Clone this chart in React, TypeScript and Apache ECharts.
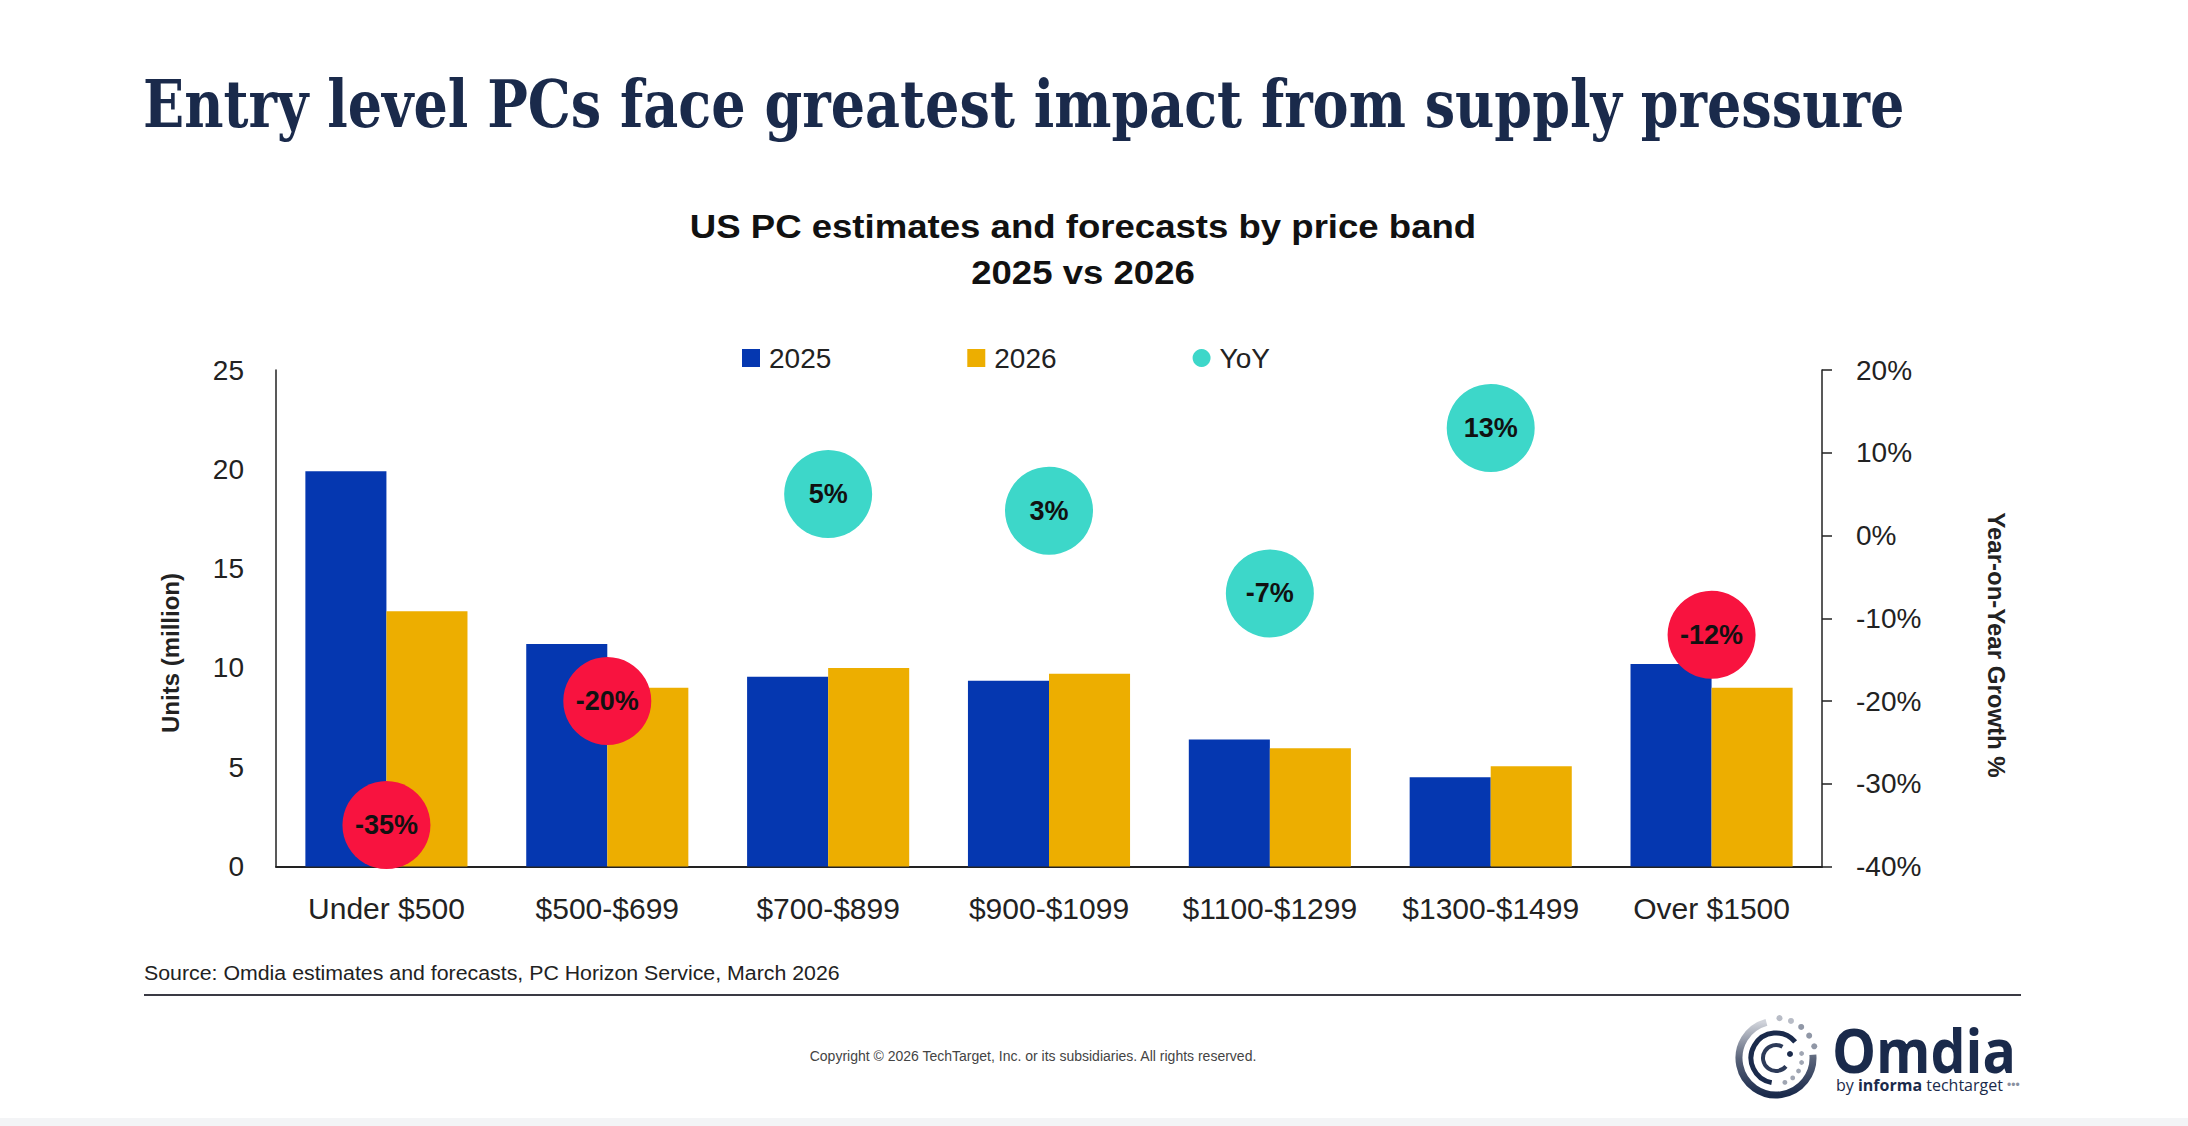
import React, { useEffect, useRef } from 'react';
import * as echarts from 'echarts';

const categories = ['Under $500', '$500-$699', '$700-$899', '$900-$1099', '$1100-$1299', '$1300-$1499', 'Over $1500'];
const units2025 = [19.9, 11.2, 9.55, 9.35, 6.4, 4.5, 10.2];
const units2026 = [12.85, 9.0, 10.0, 9.7, 5.95, 5.05, 9.0];
const yoyGrowth = [-35, -20, 5, 3, -7, 13, -12];
const seriesNames = ['2025', '2026', 'YoY'];
const unitsAxis = { min: 0, max: 25, interval: 5 };
const growthAxis = { min: -40, max: 20, interval: 10 };

const TITLE = 'Entry level PCs face greatest impact from supply pressure';
const CHART_TITLE_1 = 'US PC estimates and forecasts by price band';
const CHART_TITLE_2 = '2025 vs 2026';
const LEFT_NAME = 'Units (million)';
const RIGHT_NAME = 'Year-on-Year Growth %';
const SOURCE = 'Source: Omdia estimates and forecasts, PC Horizon Service, March 2026';
const COPYRIGHT = 'Copyright \u00A9 2026 TechTarget, Inc. or its subsidiaries. All rights reserved.';

const BLUE = '#0537B0';
const YELLOW = '#EDAE00';
const TEAL = '#3DD7C9';
const RED = '#F8133F';
const NAVY = '#1a2a4b';
const SANS = '"Liberation Sans", Arial';

function measure(text: string, font: string): number {
  const c = document.createElement('canvas').getContext('2d');
  if (!c) return 1;
  c.font = font;
  return c.measureText(text).width || 1;
}

export default function App() {
  const ref = useRef<HTMLDivElement>(null);
  useEffect(() => {
    document.body.style.margin = '0';
    if (!ref.current) return;
    const chart = echarts.init(ref.current, undefined, { renderer: 'svg' });

    const titleFont = 'bold 66px "DejaVu Serif"';
    const titleScale = 1762 / measure(TITLE, titleFont);
    const ctFont = 'bold 34px "Liberation Sans"';
    const ctScale = 787 / measure(CHART_TITLE_1, ctFont);
    const srcFont = '21px "Liberation Sans Narrow", "Liberation Sans", Arial';
    const srcScale = 696 / measure(SOURCE, srcFont);
    const omdiaFont = 'bold 60px "Open Sans"';
    const omdiaScale = 184 / measure('Omdia', omdiaFont);

    const cx = 1776, cy = 1058;
    const deg = (d: number) => (d * Math.PI) / 180;
    const dots: any[] = [];
    [275, 292, 309, 326, 343].forEach((a, i) => {
      dots.push({ type: 'circle', shape: { cx: cx + 40 * Math.cos(deg(a)), cy: cy + 40 * Math.sin(deg(a)), r: 3 }, style: { fill: i < 2 ? '#b8bcc6' : '#9097a6' } });
    });
    [350, 10, 30, 50, 70].forEach((a) => {
      dots.push({ type: 'circle', shape: { cx: cx + 26 * Math.cos(deg(a)), cy: cy + 26 * Math.sin(deg(a)), r: 2.4 }, style: { fill: '#a0a6b3' } });
    });
    dots.push({ type: 'circle', shape: { cx: cx + 14, cy: cy - 4, r: 3 }, style: { fill: NAVY } });

    const option: any = {
      animation: false,
      backgroundColor: '#ffffff',
      legend: {
        top: 339,
        left: 737,
        itemWidth: 18,
        itemHeight: 18,
        itemGap: 136,
        textStyle: { fontFamily: SANS, fontSize: 28, color: '#222', width: 72, padding: [0, 0, 0, 4] },
        data: [
          { name: seriesNames[0], icon: 'rect' },
          { name: seriesNames[1], icon: 'rect' },
          { name: seriesNames[2], icon: 'circle' },
        ],
      },
      grid: { left: 276, right: 366, top: 370, bottom: 259.5, containLabel: false },
      xAxis: {
        type: 'category',
        data: categories,
        axisLine: { lineStyle: { color: '#222', width: 2 } },
        axisTick: { show: false },
        axisLabel: { fontFamily: SANS, fontSize: 30, color: '#222', margin: 27, interval: 0 },
      },
      yAxis: [
        {
          type: 'value',
          min: unitsAxis.min,
          max: unitsAxis.max,
          interval: unitsAxis.interval,
          axisLine: { show: true, lineStyle: { color: '#222', width: 1.5 } },
          axisTick: { show: false },
          splitLine: { show: false },
          axisLabel: { fontFamily: SANS, fontSize: 28, color: '#222', margin: 32 },
        },
        {
          type: 'value',
          position: 'right',
          min: growthAxis.min,
          max: growthAxis.max,
          interval: growthAxis.interval,
          axisLine: { show: true, lineStyle: { color: '#222', width: 1.5 } },
          axisTick: { show: true, length: 10, lineStyle: { color: '#222', width: 1.5 } },
          splitLine: { show: false },
          axisLabel: { fontFamily: SANS, fontSize: 28, color: '#222', margin: 34, formatter: '{value}%' },
        },
      ],
      series: [
        {
          name: seriesNames[0],
          type: 'bar',
          data: units2025,
          itemStyle: { color: BLUE },
          barGap: '0%',
          barCategoryGap: '26.6%',
        },
        {
          name: seriesNames[1],
          type: 'bar',
          data: units2026,
          itemStyle: { color: YELLOW },
          barGap: '0%',
          barCategoryGap: '26.6%',
        },
        {
          name: seriesNames[2],
          type: 'scatter',
          yAxisIndex: 1,
          z: 5,
          symbol: 'circle',
          symbolSize: 88,
          data: yoyGrowth.map((v) => ({ value: v, itemStyle: { color: v <= -10 ? RED : TEAL } })),
          itemStyle: { color: TEAL, opacity: 1 },
          label: {
            show: true,
            position: 'inside',
            formatter: (p: any) => `${p.value}%`,
            fontFamily: SANS,
            fontWeight: 'bold',
            fontSize: 27,
            color: '#111',
          },
        },
      ],
      graphic: [
        {
          type: 'text',
          x: 143,
          y: 103,
          scaleX: titleScale,
          style: { text: TITLE, font: titleFont, fill: NAVY, align: 'left', verticalAlign: 'middle' },
        },
        {
          type: 'text',
          x: 1083,
          y: 226,
          scaleX: ctScale,
          style: { text: CHART_TITLE_1, font: ctFont, fill: '#111', align: 'center', verticalAlign: 'middle' },
        },
        {
          type: 'text',
          x: 1083,
          y: 272,
          scaleX: ctScale,
          style: { text: CHART_TITLE_2, font: ctFont, fill: '#111', align: 'center', verticalAlign: 'middle' },
        },
        {
          type: 'text',
          x: 170,
          y: 653,
          rotation: Math.PI / 2,
          style: { text: LEFT_NAME, font: 'bold 24px "Liberation Sans"', fill: '#222', align: 'center', verticalAlign: 'middle' },
        },
        {
          type: 'text',
          x: 1996,
          y: 645,
          rotation: -Math.PI / 2,
          style: { text: RIGHT_NAME, font: 'bold 24px "Liberation Sans"', fill: '#222', align: 'center', verticalAlign: 'middle' },
        },
        {
          type: 'text',
          x: 144,
          y: 973,
          scaleX: srcScale,
          style: { text: SOURCE, font: srcFont, fill: '#222', align: 'left', verticalAlign: 'middle' },
        },
        {
          type: 'line',
          shape: { x1: 144, y1: 995, x2: 2021, y2: 995 },
          style: { stroke: '#3a3a44', lineWidth: 2 },
        },
        {
          type: 'text',
          x: 1033,
          y: 1056,
          style: { text: COPYRIGHT, font: '14px "Liberation Sans", Arial', fill: '#444', align: 'center', verticalAlign: 'middle' },
        },
        {
          type: 'arc',
          shape: { cx, cy, r: 37, startAngle: deg(-5), endAngle: deg(255), clockwise: true },
          style: {
            fill: null,
            lineWidth: 7,
            stroke: new echarts.graphic.LinearGradient(0, 0, 0, 1, [
              { offset: 0, color: '#d0d3da' },
              { offset: 0.5, color: '#5a647a' },
              { offset: 1, color: NAVY },
            ]),
          },
        },
        {
          type: 'arc',
          shape: { cx, cy, r: 25, startAngle: deg(100), endAngle: deg(320), clockwise: true },
          style: { fill: null, lineWidth: 5, stroke: NAVY },
        },
        {
          type: 'arc',
          shape: { cx, cy, r: 13, startAngle: deg(40), endAngle: deg(300), clockwise: true },
          style: { fill: null, lineWidth: 4, stroke: '#2c3a58' },
        },
        ...dots,
        {
          type: 'text',
          x: 1832,
          y: 1050,
          scaleX: omdiaScale,
          style: { text: 'Omdia', font: omdiaFont, fill: NAVY, align: 'left', verticalAlign: 'middle' },
        },
        {
          type: 'text',
          x: 1836,
          y: 1085,
          style: {
            text: '{a|by }{b|informa}{a| techtarget }{c|\u2022\u2022\u2022}',
            align: 'left',
            verticalAlign: 'middle',
            rich: {
              a: { fontFamily: '"Open Sans", Arial', fontSize: 16, fill: NAVY, color: NAVY },
              b: { fontFamily: '"Open Sans", Arial', fontSize: 16, fontWeight: 'bold', fill: NAVY, color: NAVY },
              c: { fontFamily: 'Arial', fontSize: 12, fill: '#8a90a0', color: '#8a90a0' },
            },
          },
        },
        {
          type: 'rect',
          shape: { x: 0, y: 1118, width: 2188, height: 8 },
          style: { fill: '#f3f4f6' },
        },
      ],
    };
    chart.setOption(option);
    return () => chart.dispose();
  }, []);
  return <div ref={ref} style={{ width: 2188, height: 1126 }} />;
}
